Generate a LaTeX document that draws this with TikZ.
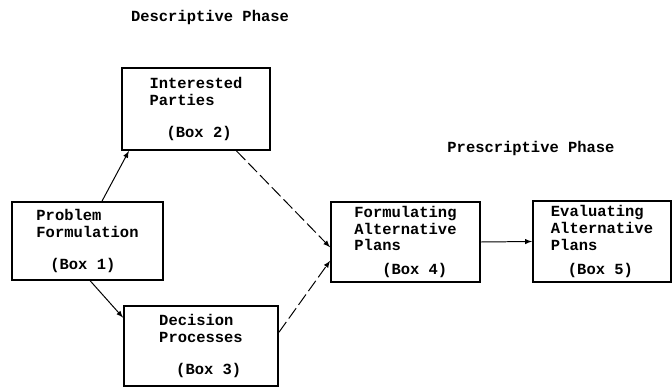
\documentclass[tikz,border=0pt]{standalone}
\usepackage{fontspec}
\setmonofont{Liberation Mono}
\begin{document}
\begin{tikzpicture}[x=0.025cm,y=-0.025cm,
  typed/.style={font=\ttfamily\bfseries\fontsize{11}{12}\selectfont},
  box/.style={typed,draw,line width=1.3pt,align=left,inner sep=0pt},
  flow/.style={->,>=latex,line width=0.7pt},
  loose/.style={flow,dash pattern=on 9pt off 3pt}]
\useasboundingbox (0,0) rectangle (672,387);
%% phase headings
\node[typed] (desc) at (210,18) {Descriptive Phase};
\node[typed] (presc) at (531,149) {Prescriptive Phase};
%% boxes
\node[box,minimum width=3.775cm,minimum height=1.95cm] (B1) at (87.5,241)
  {Problem\\Formulation\\[11pt]\hspace*{0.9em}(Box 1)};
\node[box,minimum width=3.7cm,minimum height=2.05cm] (B2) at (196,109)
  {Interested\\Parties\\[11pt]\hspace*{1.1em}(Box 2)};
\node[box,minimum width=3.85cm,minimum height=2cm] (B3) at (201,346)
  {Decision\\Processes\\[11pt]\hspace*{1.1em}(Box 3)};
\node[box,minimum width=3.725cm,minimum height=2cm] (B4) at (405.5,242)
  {Formulating\\Alternative\\Plans\\[5pt]\hspace*{1.8em}(Box 4)};
\node[box,minimum width=3.45cm,minimum height=2.025cm] (B5) at (602,241.5)
  {Evaluating\\Alternative\\Plans\\[5pt]\hspace*{1.1em}(Box 5)};
%% connectors
\draw[flow] (B1.70) -- (B2.212);
\draw[flow] (B1.274) -- (B3.160);
\draw[loose] (B2.314) -- (B4.184);
\draw[loose] (B3.10) -- (B4.194);
\draw[flow] (B4.east) -- (B5.west);
\end{tikzpicture}
\end{document}
